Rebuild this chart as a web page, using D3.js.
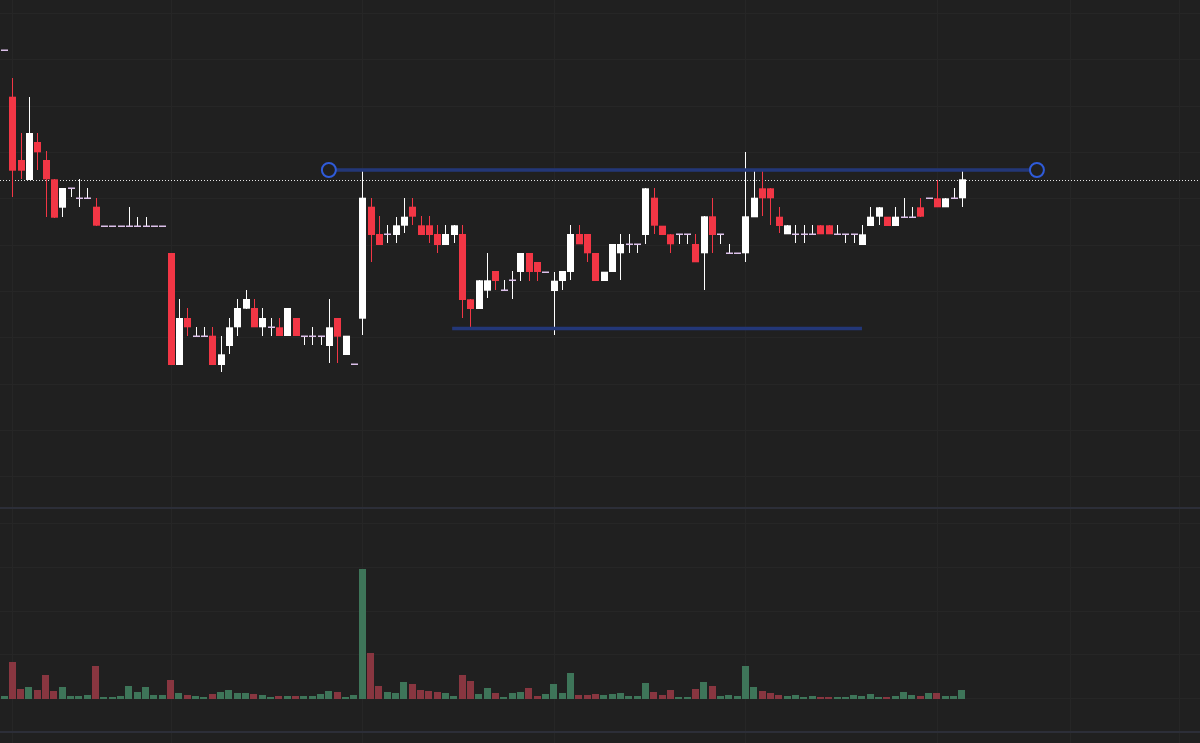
<!DOCTYPE html>
<html>
<head>
<meta charset="utf-8">
<script src="https://cdn.jsdelivr.net/npm/d3@7"></script>
<style>
  html, body { margin: 0; padding: 0; background: #202020; }
  svg { display: block; }
</style>
</head>
<body>
<svg id="chart" width="1200" height="743"></svg>
<script>
// ---------- DATA (price units arbitrary) ----------
const opens  = [4.497,4.033,3.40,3.20,3.58,3.40,3.207,2.923,3.12,3.02,3.02,2.933,2.743,2.743,2.743,2.743,2.743,2.743,2.743,2.743,
  2.47,1.35,1.82,1.64,1.64,1.643,1.35,1.54,1.727,1.913,1.92,1.727,1.727,1.727,1.64,1.82,1.64,1.64,1.64,1.54,
  1.82,1.45,1.357,1.813,2.933,2.66,2.66,2.65,2.743,2.933,2.747,2.747,2.66,2.55,2.65,2.66,2.007,1.91,2.093,2.29,
  2.097,2.197,2.28,2.47,2.38,2.283,2.09,2.19,2.28,2.66,2.66,2.47,2.19,2.28,2.467,2.56,2.56,2.65,3.023,2.743,
  2.657,2.657,2.657,2.56,2.467,2.837,2.657,2.467,2.467,2.467,2.827,3.117,3.117,2.833,2.657,2.657,2.657,2.657,2.747,2.747,
  2.657,2.657,2.657,2.55,2.74,2.833,2.833,2.74,2.833,2.833,2.927,3.017,3.017,2.927,3.017,3.017];
const highs  = [4.497,4.223,3.667,4.033,3.67,3.49,3.207,3.12,3.12,3.207,3.12,3.02,2.743,2.743,2.743,2.933,2.833,2.833,2.743,2.743,
  2.47,2.01,1.92,1.733,1.733,1.727,1.643,1.82,2.01,2.10,2.01,1.92,1.82,1.82,1.92,1.82,1.64,1.733,1.64,2.01,
  1.82,1.643,1.357,3.30,3.023,2.84,2.75,2.833,3.023,3.023,2.84,2.84,2.75,2.75,2.747,2.75,2.007,2.197,2.467,2.29,
  2.20,2.293,2.47,2.47,2.38,2.283,2.283,2.29,2.75,2.75,2.66,2.47,2.283,2.56,2.657,2.657,2.56,3.117,3.117,2.743,
  2.657,2.657,2.657,2.657,2.837,3.017,2.657,2.56,2.467,3.483,3.30,3.30,3.117,2.927,2.747,2.747,2.747,2.747,2.747,2.747,
  2.747,2.657,2.657,2.747,2.933,2.927,2.833,2.927,3.017,2.927,3.017,3.017,3.20,3.017,3.117,3.30];
const lows   = [4.497,3.033,3.207,3.20,3.30,2.833,2.823,2.833,3.027,2.933,3.02,2.743,2.743,2.743,2.743,2.743,2.743,2.743,2.743,2.743,
  1.35,1.35,1.643,1.64,1.64,1.35,1.283,1.457,1.643,1.913,1.727,1.643,1.643,1.64,1.64,1.64,1.55,1.55,1.55,1.367,
  1.367,1.45,1.357,1.65,2.383,2.55,2.567,2.567,2.667,2.75,2.65,2.567,2.473,2.55,2.567,1.823,1.733,1.91,2.017,2.10,
  2.097,2.01,2.193,2.193,2.193,2.283,1.65,2.10,2.20,2.557,2.383,2.19,2.19,2.28,2.20,2.473,2.473,2.56,2.657,2.65,
  2.473,2.56,2.56,2.377,2.10,2.473,2.56,2.467,2.467,2.383,2.827,2.84,2.75,2.667,2.657,2.567,2.567,2.657,2.657,2.657,
  2.657,2.567,2.567,2.55,2.74,2.747,2.74,2.74,2.833,2.833,2.833,3.017,2.927,2.927,3.017,2.933];
const closes = [4.497,3.293,3.293,3.67,3.477,3.207,2.823,3.12,3.12,3.02,3.02,2.743,2.743,2.743,2.743,2.743,2.743,2.743,2.743,2.743,
  1.35,1.82,1.727,1.64,1.64,1.35,1.457,1.727,1.92,2.01,1.727,1.82,1.727,1.64,1.92,1.64,1.64,1.64,1.64,1.727,
  1.633,1.643,1.357,3.023,2.65,2.55,2.66,2.747,2.833,2.833,2.65,2.65,2.55,2.66,2.747,2.00,1.91,2.197,2.197,2.19,
  2.097,2.197,2.47,2.28,2.28,2.283,2.193,2.29,2.66,2.557,2.467,2.19,2.283,2.56,2.56,2.56,2.56,3.117,2.743,2.65,
  2.557,2.657,2.657,2.377,2.837,2.65,2.657,2.467,2.467,2.837,3.023,3.017,3.017,2.74,2.747,2.657,2.657,2.657,2.657,2.657,
  2.657,2.657,2.657,2.657,2.833,2.927,2.74,2.833,2.833,2.833,2.833,3.017,2.927,3.017,3.017,3.207];
const volumes = [3,37,10,12,9,24,8,12,3,3,4,33,2,2,3,13,7,12,4,4,
  19,6,4,3,2,5,7,9,6,6,5,4,2,3,3,3,3,3,5,8,
  7,2,4,130,46,13,7,6,17,15,9,8,7,6,3,24,18,5,11,6,
  2,6,7,11,3,5,15,6,26,4,4,5,4,5,6,3,3,16,7,4,
  9,2,2,10,17,13,3,4,3,33,12,8,6,4,3,4,2,3,2,2,
  2,2,4,3,5,2,2,3,7,4,3,6,6,3,3,9];

// Reference levels and drawings
const lastPriceLevel = 3.205;                    // dotted line
const resistance = {from: 39, to: 124, price: 3.30};
const support    = {from: 53.8, to: 103, price: 1.715};
const priceGridLevels  = [4.87,4.407,3.944,3.48,3.017,2.554,2.09,1.627,1.164,0.70,0.237];
const volumeGridLevels = [1,45,88,132,176];
const timeGridIndices  = [1,20,43,66,89,112,128,141];

// ---------- SETUP ----------
const W = 1200, H = 743;
const BG = "#202020", GRID = "#262626", SEP = "#2c2e38";
const UP = "#ffffff", DOWN = "#f23645", DOJI = "#dcc0ea";
const VUP = "#3e7559", VDOWN = "#883640";

const svg = d3.select("#chart");
svg.append("rect").attr("width", W).attr("height", H).attr("fill", BG);

const x = d3.scaleLinear().domain([0, 141]).range([4, 4 + 141 * 8.33]);
const y = d3.scaleLinear().domain([0, 5]).range([500, 0]);
const yv = d3.scaleLinear().domain([0, 130]).range([699, 569]);

const candles = opens.map((o, i) => ({i, o, h: highs[i], l: lows[i], c: closes[i], v: volumes[i]}));

// grid
const g = svg.append("g").attr("shape-rendering", "crispEdges");
g.selectAll(".vg").data(timeGridIndices).join("line")
  .attr("x1", d => Math.round(x(d)) + 0.5).attr("x2", d => Math.round(x(d)) + 0.5)
  .attr("y1", 0).attr("y2", H).attr("stroke", GRID).attr("stroke-width", 1);
g.selectAll(".hg").data(priceGridLevels).join("line")
  .attr("x1", 0).attr("x2", W)
  .attr("y1", d => Math.round(y(d)) + 0.5).attr("y2", d => Math.round(y(d)) + 0.5)
  .attr("stroke", GRID).attr("stroke-width", 1);
g.selectAll(".hvg").data(volumeGridLevels).join("line")
  .attr("x1", 0).attr("x2", W)
  .attr("y1", d => Math.round(yv(d)) + 0.5).attr("y2", d => Math.round(yv(d)) + 0.5)
  .attr("stroke", GRID).attr("stroke-width", 1);

// pane separators
svg.append("rect").attr("x", 0).attr("y", 507).attr("width", W).attr("height", 2).attr("fill", SEP);
svg.append("rect").attr("x", 0).attr("y", 731).attr("width", W).attr("height", 2).attr("fill", SEP);

// volume bars
svg.append("g").attr("shape-rendering", "crispEdges")
  .selectAll("rect").data(candles).join("rect")
  .attr("x", d => Math.round(x(d.i) - 3.5))
  .attr("width", 7)
  .attr("y", d => yv(d.v))
  .attr("height", d => yv(0) - yv(d.v))
  .attr("fill", d => d.c >= d.o ? VUP : VDOWN);

// dotted last price line
svg.append("line")
  .attr("x1", 0).attr("x2", W)
  .attr("y1", Math.round(y(lastPriceLevel)) + 0.5).attr("y2", Math.round(y(lastPriceLevel)) + 0.5)
  .attr("stroke", "#e8e8e8").attr("stroke-width", 1).attr("stroke-dasharray", "1,2");

// candles
const cg = svg.append("g");
const col = d => d.c > d.o ? UP : (d.c < d.o ? DOWN : UP);
cg.selectAll(".wick").data(candles.filter(d => d.h > d.l)).join("line")
  .attr("x1", d => Math.round(x(d.i)) + 0.5).attr("x2", d => Math.round(x(d.i)) + 0.5)
  .attr("y1", d => y(d.h)).attr("y2", d => y(d.l))
  .attr("stroke", col).attr("stroke-width", 1)
  .attr("shape-rendering", "crispEdges");
cg.selectAll(".body").data(candles).join("rect")
  .attr("x", d => Math.round(x(d.i)) - 3)
  .attr("width", 7)
  .attr("y", d => d.c === d.o ? Math.round(y(d.o)) - 0.5 : y(Math.max(d.o, d.c)))
  .attr("height", d => d.c === d.o ? 1.5 : Math.abs(y(d.o) - y(d.c)))
  .attr("fill", d => d.c === d.o ? DOJI : col(d));

// drawings: resistance & support lines
svg.append("line")
  .attr("x1", x(resistance.from)).attr("x2", x(resistance.to))
  .attr("y1", y(resistance.price)).attr("y2", y(resistance.price))
  .attr("stroke", "#233778").attr("stroke-width", 3.5);
svg.selectAll(".handle").data([resistance.from, resistance.to]).join("circle")
  .attr("cx", d => x(d)).attr("cy", y(resistance.price)).attr("r", 7)
  .attr("fill", BG).attr("stroke", "#2f5bd9").attr("stroke-width", 2);
svg.append("line")
  .attr("x1", x(support.from)).attr("x2", x(support.to))
  .attr("y1", y(support.price)).attr("y2", y(support.price))
  .attr("stroke", "#233778").attr("stroke-width", 3.5);
</script>
</body>
</html>
